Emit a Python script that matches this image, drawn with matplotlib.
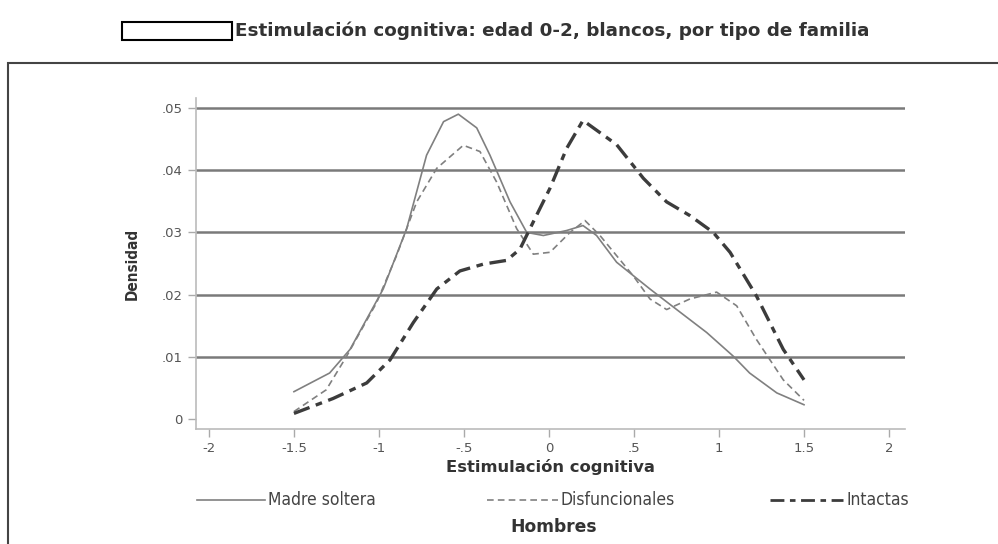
import matplotlib.pyplot as plt
from matplotlib.patches import Rectangle
from matplotlib.lines import Line2D

# values
madre_x = [-1.5, -1.29, -1.17, -0.975, -0.837, -0.72, -0.62, -0.533, -0.425, -0.347, -0.229, -0.131,
           -0.033, 0.104, 0.2, 0.28, 0.398, 0.594, 0.751, 0.928, 1.084, 1.18, 1.34, 1.5]
madre_y = [0.0044, 0.0074, 0.0112, 0.0209, 0.0306, 0.0424, 0.0478, 0.0490, 0.0468, 0.0424, 0.0349, 0.0300,
           0.0295, 0.0303, 0.0311, 0.0295, 0.0252, 0.0209, 0.0176, 0.0139, 0.0101, 0.0074, 0.0042, 0.0023]

disf_x = [-1.5, -1.31, -1.19, -1.014, -0.896, -0.778, -0.66, -0.504, -0.406, -0.308, -0.19, -0.092,
          0.006, 0.124, 0.212, 0.3, 0.496, 0.594, 0.692, 0.829, 0.986, 1.104, 1.22, 1.378, 1.5]
disf_y = [0.0012, 0.0047, 0.0101, 0.0187, 0.0263, 0.0349, 0.0403, 0.0440, 0.0430, 0.0381, 0.0306, 0.0265,
          0.0268, 0.0300, 0.0319, 0.0295, 0.0230, 0.0193, 0.0176, 0.0193, 0.0204, 0.0182, 0.0128, 0.0063, 0.0030]

intac_x = [-1.5, -1.27, -1.072, -0.935, -0.798, -0.66, -0.524, -0.386, -0.249, -0.171, -0.092, 0.006,
           0.104, 0.2, 0.398, 0.555, 0.692, 0.829, 0.966, 1.065, 1.22, 1.378, 1.5]
intac_y = [0.0009, 0.0033, 0.0058, 0.0095, 0.0155, 0.0209, 0.0238, 0.0249, 0.0255, 0.0273, 0.0317, 0.0371,
           0.0435, 0.0480, 0.0441, 0.0387, 0.0349, 0.0327, 0.0300, 0.0268, 0.0198, 0.0112, 0.0063]

x_ticks = [-2, -1.5, -1, -0.5, 0, 0.5, 1, 1.5, 2]
x_labels = ['-2', '-1.5', '-1', '-.5', '0', '.5', '1', '1.5', '2']
y_ticks = [0, 0.01, 0.02, 0.03, 0.04, 0.05]
y_labels = ['0', '.01', '.02', '.03', '.04', '.05']

cond = dict(family='DejaVu Sans', fontstretch='condensed')
bold = dict(family='DejaVu Sans', fontweight='bold')

fig = plt.figure(figsize=(9.98, 5.44), dpi=100)

# outer frame and title box
fig.patches.append(Rectangle((8 / 998, -0.05), 1.1, 1 - 63 / 544 + 0.05, transform=fig.transFigure,
                             fill=False, edgecolor='#444444', linewidth=1.5))
fig.patches.append(Rectangle((122 / 998, 1 - 40 / 544), 110 / 998, 18 / 544, transform=fig.transFigure,
                             fill=False, edgecolor='black', linewidth=1.5))
fig.text(235 / 998, 1 - 31 / 544, 'Estimulación cognitiva: edad 0-2, blancos, por tipo de familia',
         fontsize=13.2, color='#333333', va='center', ha='left', **bold)

ax = fig.add_axes([196 / 998, 1 - 429 / 544, (905 - 196) / 998, (429 - 98) / 544])
for yv in y_ticks[1:]:
    ax.axhline(yv, color='#7a7a7a', linewidth=1.8, zorder=1)

ax.plot(madre_x, madre_y, color='#808080', linewidth=1.2, zorder=3)
ax.plot(disf_x, disf_y, color='#808080', linewidth=1.2, linestyle=(0, (4, 2.5)), zorder=3)
ax.plot(intac_x, intac_y, color='#3c3c3c', linewidth=2.4, linestyle=(0, (5, 2, 2, 2)), zorder=4)

ax.set_xlim(-2.076, 2.094)
ax.set_ylim(-0.0016, 0.0516)
ax.set_xticks(x_ticks)
ax.set_xticklabels(x_labels, family='DejaVu Sans', fontsize=9.5)
ax.set_yticks(y_ticks)
ax.set_yticklabels(y_labels, family='DejaVu Sans', fontsize=9.5)
ax.tick_params(colors='#aaaaaa', labelcolor='#555555', length=6, width=1)

for side in ['top', 'right']:
    ax.spines[side].set_visible(False)
for side in ['left', 'bottom']:
    ax.spines[side].set_color('#bbbbbb')
    ax.spines[side].set_linewidth(1.2)

ax.set_ylabel('Densidad', fontweight='bold', fontsize=11, color='#333333', labelpad=16, **cond)
ax.set_xlabel('Estimulación cognitiva', fontsize=11.8, color='#333333', labelpad=3, **bold)

# legend row, drawn by hand to mimic the original layout
leg_y = 1 - 500 / 544
items = [(197, 265, dict(color='#808080', linewidth=1.2), 'Madre soltera'),
         (487, 558, dict(color='#808080', linewidth=1.2, linestyle=(0, (4, 2.5))), 'Disfuncionales'),
         (770, 843, dict(color='#3c3c3c', linewidth=2, linestyle=(0, (5, 2, 2, 2))), 'Intactas')]
for x0, x1, style, label in items:
    fig.add_artist(Line2D([x0 / 998, x1 / 998], [leg_y, leg_y], transform=fig.transFigure, **style))
    fig.text((x1 + 3) / 998, leg_y, label, fontsize=12.5, color='#444444', va='center', **cond)

fig.text(554 / 998, 1 - 527 / 544, 'Hombres', fontsize=12.3, color='#333333',
         ha='center', va='center', **bold)

fig.savefig('out.png', dpi=100)
